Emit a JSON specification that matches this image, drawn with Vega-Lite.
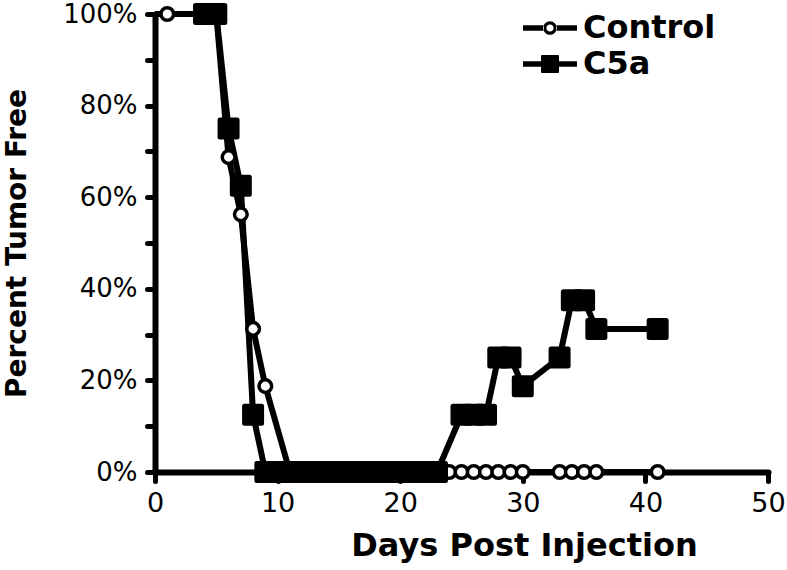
{
  "$schema": "https://vega.github.io/schema/vega-lite/v6.json",
  "autosize": "none",
  "width": 613,
  "height": 458,
  "padding": {"left": 155, "top": 14, "right": 19, "bottom": 98},
  "background": "white",
  "config": {"view": {"stroke": null}},
  "data": {"values": [
    {"series": "Control", "day": 0, "pct": 1},
    {"series": "Control", "day": 1, "pct": 1},
    {"series": "Control", "day": 4, "pct": 1},
    {"series": "Control", "day": 5, "pct": 1},
    {"series": "Control", "day": 6, "pct": 0.6875},
    {"series": "Control", "day": 7, "pct": 0.5625},
    {"series": "Control", "day": 8, "pct": 0.3125},
    {"series": "Control", "day": 9, "pct": 0.1875},
    {"series": "Control", "day": 11, "pct": 0},
    {"series": "Control", "day": 12, "pct": 0},
    {"series": "Control", "day": 13, "pct": 0},
    {"series": "Control", "day": 14, "pct": 0},
    {"series": "Control", "day": 15, "pct": 0},
    {"series": "Control", "day": 16, "pct": 0},
    {"series": "Control", "day": 17, "pct": 0},
    {"series": "Control", "day": 18, "pct": 0},
    {"series": "Control", "day": 19, "pct": 0},
    {"series": "Control", "day": 20, "pct": 0},
    {"series": "Control", "day": 21, "pct": 0},
    {"series": "Control", "day": 22, "pct": 0},
    {"series": "Control", "day": 23, "pct": 0},
    {"series": "Control", "day": 24, "pct": 0},
    {"series": "Control", "day": 25, "pct": 0},
    {"series": "Control", "day": 26, "pct": 0},
    {"series": "Control", "day": 27, "pct": 0},
    {"series": "Control", "day": 28, "pct": 0},
    {"series": "Control", "day": 29, "pct": 0},
    {"series": "Control", "day": 30, "pct": 0},
    {"series": "Control", "day": 33, "pct": 0},
    {"series": "Control", "day": 34, "pct": 0},
    {"series": "Control", "day": 35, "pct": 0},
    {"series": "Control", "day": 36, "pct": 0},
    {"series": "Control", "day": 41, "pct": 0},
    {"series": "C5a", "day": 0, "pct": 1},
    {"series": "C5a", "day": 4, "pct": 1},
    {"series": "C5a", "day": 5, "pct": 1},
    {"series": "C5a", "day": 6, "pct": 0.75},
    {"series": "C5a", "day": 7, "pct": 0.625},
    {"series": "C5a", "day": 8, "pct": 0.125},
    {"series": "C5a", "day": 9, "pct": 0},
    {"series": "C5a", "day": 10, "pct": 0},
    {"series": "C5a", "day": 11, "pct": 0},
    {"series": "C5a", "day": 12, "pct": 0},
    {"series": "C5a", "day": 13, "pct": 0},
    {"series": "C5a", "day": 14, "pct": 0},
    {"series": "C5a", "day": 15, "pct": 0},
    {"series": "C5a", "day": 16, "pct": 0},
    {"series": "C5a", "day": 17, "pct": 0},
    {"series": "C5a", "day": 18, "pct": 0},
    {"series": "C5a", "day": 19, "pct": 0},
    {"series": "C5a", "day": 20, "pct": 0},
    {"series": "C5a", "day": 21, "pct": 0},
    {"series": "C5a", "day": 22, "pct": 0},
    {"series": "C5a", "day": 23, "pct": 0},
    {"series": "C5a", "day": 25, "pct": 0.125},
    {"series": "C5a", "day": 26, "pct": 0.125},
    {"series": "C5a", "day": 27, "pct": 0.125},
    {"series": "C5a", "day": 28, "pct": 0.25},
    {"series": "C5a", "day": 29, "pct": 0.25},
    {"series": "C5a", "day": 30, "pct": 0.1875},
    {"series": "C5a", "day": 33, "pct": 0.25},
    {"series": "C5a", "day": 34, "pct": 0.375},
    {"series": "C5a", "day": 35, "pct": 0.375},
    {"series": "C5a", "day": 36, "pct": 0.3125},
    {"series": "C5a", "day": 41, "pct": 0.3125}
  ]},
  "encoding": {
    "x": {
      "field": "day", "type": "quantitative",
      "scale": {"domain": [0, 50], "nice": false, "zero": false},
      "axis": {
        "title": "Days Post Injection",
        "values": [0, 10, 20, 30, 40, 50],
        "grid": false,
        "domainColor": "black", "domainWidth": 6, "domainCap": "round",
        "tickColor": "black", "tickWidth": 5, "tickSize": 9, "tickCap": "round",
        "labelFont": "DejaVu Sans", "labelFontSize": 27, "labelColor": "black",
        "labelPadding": 9, "labelBaseline": "top", "labelFlush": false,
        "titleFont": "DejaVu Sans", "titleFontWeight": "bold", "titleFontSize": 32, "titleColor": "black",
        "titleX": 369, "titleY": 83, "titleBaseline": "alphabetic", "titleAnchor": null, "titleAlign": "center"
      }
    },
    "y": {
      "field": "pct", "type": "quantitative",
      "scale": {"domain": [0, 1], "nice": false},
      "axis": {
        "title": "Percent Tumor Free",
        "values": [0, 0.1, 0.2, 0.3, 0.4, 0.5, 0.6, 0.7, 0.8, 0.9, 1],
        "format": ".0%",
        "labelExpr": "round(datum.value * 10) % 2 === 0 ? datum.label : ''",
        "grid": false,
        "domainColor": "black", "domainWidth": 6, "domainCap": "round",
        "tickColor": "black", "tickWidth": 5, "tickSize": 8, "tickCap": "round",
        "labelFont": "DejaVu Sans", "labelFontSize": 26, "labelColor": "black",
        "labelPadding": 10, "labelFlush": false,
        "titleFont": "DejaVu Sans", "titleFontWeight": "bold", "titleFontSize": 28, "titleColor": "black",
        "titleX": -130, "titleY": 229, "titleBaseline": "alphabetic", "titleAngle": -90, "titleAlign": "center", "titleAnchor": null
      }
    }
  },
  "layer": [
    {
      "mark": {"type": "line", "color": "black", "strokeWidth": 6, "strokeJoin": "round"},
      "encoding": {
        "detail": {"field": "series"},
        "order": {"field": "day", "type": "quantitative"}
      }
    },
    {
      "transform": [{"filter": "datum.series === 'Control' && datum.day > 0"}],
      "mark": {"type": "point", "shape": "circle", "filled": false, "fill": "white", "stroke": "black", "strokeWidth": 3.5, "size": 160, "opacity": 1}
    },
    {
      "transform": [{"filter": "datum.series === 'C5a' && datum.day > 0"}],
      "mark": {"type": "point", "shape": "square", "filled": true, "fill": "black", "stroke": "black", "strokeWidth": 5, "strokeJoin": "round", "size": 289, "opacity": 1}
    },
    {
      "transform": [{"filter": "datum.day < 0"}],
      "mark": {"type": "point", "filled": true, "color": "black"},
      "encoding": {
        "shape": {
          "field": "series", "type": "nominal",
          "scale": {
            "domain": ["Control", "C5a"],
            "range": [
              "M-1.35,-0.14 H-0.3 V0.14 H-1.35 Z M0.3,-0.14 H1.35 V0.14 H0.3 Z M-0.34,0 A0.34,0.34 0 1,0 0.34,0 A0.34,0.34 0 1,0 -0.34,0 Z M-0.18,0 A0.18,0.18 0 1,1 0.18,0 A0.18,0.18 0 1,1 -0.18,0 Z",
              "M-1.35,-0.14 H1.35 V0.14 H-1.35 Z M-0.4,-0.45 H0.4 A0.05,0.05 0 0,1 0.45,-0.4 V0.4 A0.05,0.05 0 0,1 0.4,0.45 H-0.4 A0.05,0.05 0 0,1 -0.45,0.4 V-0.4 A0.05,0.05 0 0,1 -0.4,-0.45 Z"
            ]
          },
          "legend": {
            "title": null,
            "orient": "none",
            "legendX": 375,
            "legendY": -6,
            "padding": 0,
            "rowPadding": 0,
            "symbolSize": 1600,
            "symbolFillColor": "black",
            "symbolStrokeColor": "black",
            "symbolStrokeWidth": 0,
            "symbolOpacity": 1,
            "labelOffset": 13,
            "labelFont": "DejaVu Sans",
            "labelFontWeight": "bold",
            "labelFontSize": 32,
            "labelColor": "black",
            "labelBaseline": "middle",
            "labelLimit": 300
          }
        }
      }
    }
  ]
}
